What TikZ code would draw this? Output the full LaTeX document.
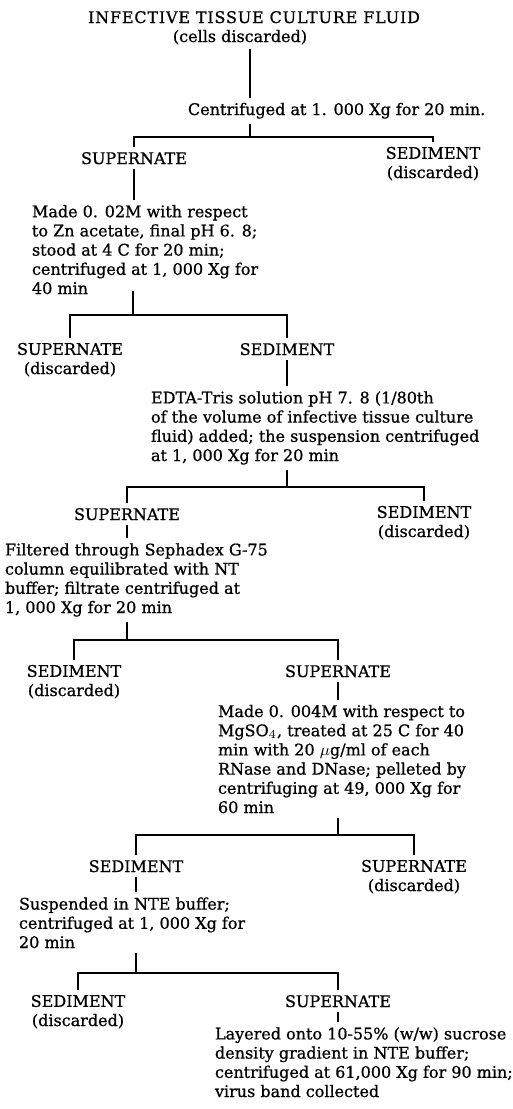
\documentclass[tikz,border=0pt]{standalone}
\usepackage{fontspec}
\setmainfont{DejaVu Serif}
\usepackage{tikz}
\usetikzlibrary{calc}

\begin{document}
\begin{tikzpicture}[x=0.5pt,y=-0.5pt,line width=1pt,
        every node/.style={inner sep=2pt,font=\fontsize{8}{9.6}\selectfont\addfontfeature{FakeBold=0.8}},
        frac/.style={anchor=base,align=center},
        proc/.style={anchor=base west,align=left}]
            \useasboundingbox (0,0) rectangle (513,1109);
            \node (fluid) at (254,23) [anchor=base] {\addfontfeature{LetterSpace=5}INFECTIVE TISSUE CULTURE FLUID};
            \node (cells) at (240,42) [anchor=base] {(cells discarded)};
            \node (spin1) at (183,115) [proc] {Centrifuged at 1. 000 Xg for 20 min.};
            \coordinate (j1) at (250,137);
            \draw (cells.south -| j1) -- (spin1.north -| j1);
            \draw (spin1.south -| j1) -- (j1);
            \node (sup1) at (134,164) [frac] {SUPERNATE};
            \node (sed1) at (433,178) [frac] {SEDIMENT\\(discarded)};
            \draw (sup1.north) |- (j1) -| (sed1.north);
            \node (zinc) at (27,294) [proc] {Made 0. 02M with respect\\to Zn acetate, final pH 6. 8;\\stood at 4 C for 20 min;\\centrifuged at 1, 000 Xg for\\40 min};
            \draw (sup1.south) -- (sup1.south |- zinc.north);
            \coordinate (j2) at (133,315);
            \draw ($(zinc.south -| j2)+(0,-8)$) -- (j2);
            \node (sup2) at (70,374) [frac] {SUPERNATE\\(discarded)};
            \node (sed2) at (287,355) [frac] {SEDIMENT};
            \draw (sup2.north) |- (j2) -| (sed2.north);
            \node (edta) at (146,461) [proc] {EDTA-Tris solution pH 7. 8 (1/80th\\of the volume of infective tissue culture\\fluid) added; the suspension centrifuged\\at 1, 000 Xg for 20 min};
            \draw (sed2.south) -- (sed2.south |- edta.north);
            \coordinate (j3) at (287,487);
            \draw (edta.south -| j3) -- (j3);
            \node (sup3) at (127,520) [frac] {SUPERNATE};
            \node (sed3) at (424,537) [frac] {SEDIMENT\\(discarded)};
            \draw (sup3.north) |- (j3) -| (sed3.north);
            \node (seph) at (0,613) [proc] {Filtered through Sephadex G-75\\column equilibrated with NT\\buffer; filtrate centrifuged at\\1, 000 Xg for 20 min};
            \draw (sup3.south) -- (sup3.south |- seph.north);
            \coordinate (j4) at (127,640);
            \draw (seph.south -| j4) -- (j4);
            \node (sed4) at (74,696) [frac] {SEDIMENT\\(discarded)};
            \node (sup4) at (338,677) [frac] {SUPERNATE};
            \draw (sed4.north) |- (j4) -| (sup4.north);
            \node (mgso) at (213,813) [proc] {Made 0. 004M with respect to\\MgSO$_4$, treated at 25 C for 40\\min with 20 $\mu$g/ml of each\\RNase and DNase; pelleted by\\centrifuging at 49, 000 Xg for\\60 min};
            \draw (sup4.south) -- (sup4.south |- mgso.north);
            \coordinate (j5) at (338,835);
            \draw (mgso.south -| j5) -- (j5);
            \node (sed5) at (136,872) [frac] {SEDIMENT};
            \node (sup5) at (414,891) [frac] {SUPERNATE\\(discarded)};
            \draw (sed5.north) |- (j5) -| (sup5.north);
            \node (nte) at (14,948) [proc] {Suspended in NTE buffer;\\centrifuged at 1, 000 Xg for\\20 min};
            \draw (sed5.south) -- (sed5.south |- nte.north);
            \coordinate (j6) at (136,973);
            \draw (nte.south -| j6) -- (j6);
            \node (sed6) at (78,1026) [frac] {SEDIMENT\\(discarded)};
            \node (sup6) at (338,1007) [frac] {SUPERNATE};
            \draw (sed6.north) |- (j6) -| (sup6.north);
            \node (grad) at (210,1097) [proc] {Layered onto 10-55\% (w/w) sucrose\\density gradient in NTE buffer;\\centrifuged at 61,000 Xg for 90 min;\\virus band collected};
            \draw (sup6.south) -- (sup6.south |- grad.north);
        \end{tikzpicture}
\end{document}
